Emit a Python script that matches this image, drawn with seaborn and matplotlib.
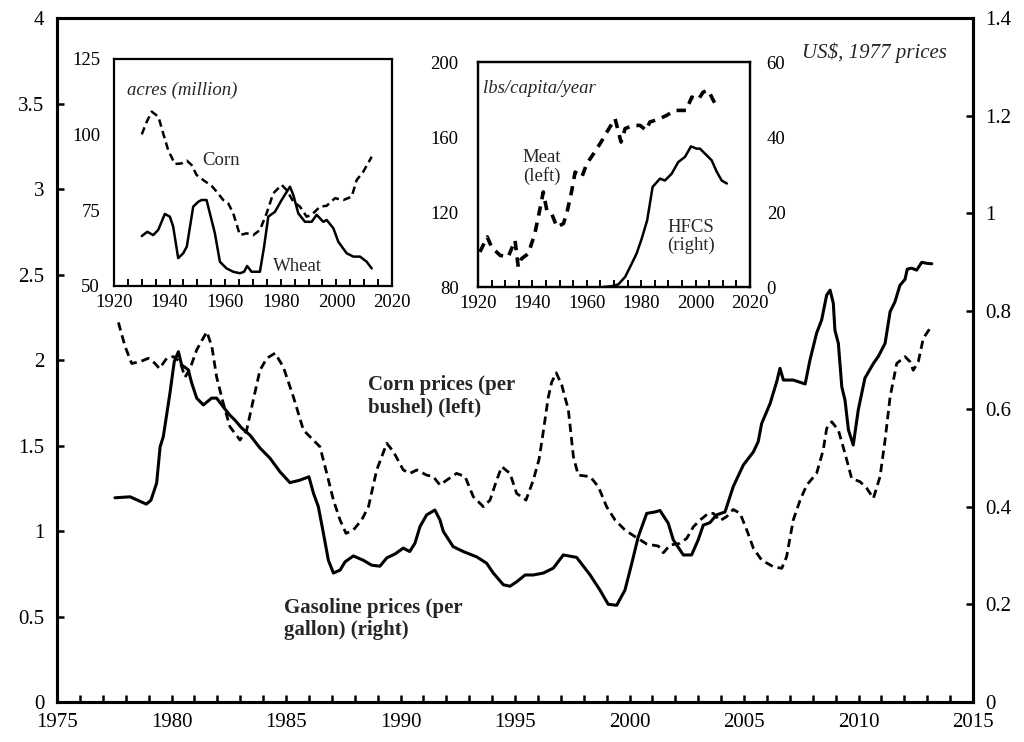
import matplotlib
matplotlib.use("Agg")
import matplotlib.pyplot as plt
import seaborn as sns
import pandas as pd
from matplotlib.ticker import MultipleLocator, FixedLocator, FuncFormatter

# ---------------- data ----------------
corn_price_year = [1977.68, 1977.97, 1978.26, 1978.62, 1978.99, 1979.28, 1979.47, 1979.79, 1980.08, 1980.37,
                   1980.59, 1980.81, 1981.10, 1981.54, 1981.76, 1981.97, 1982.26, 1982.55, 1982.99, 1983.28,
                   1983.57, 1983.86, 1984.16, 1984.52, 1984.88, 1985.32, 1985.76, 1986.19, 1986.48, 1986.78,
                   1987.07, 1987.36, 1987.62, 1987.94, 1988.30, 1988.60, 1988.96, 1989.40, 1989.69, 1990.12,
                   1990.41, 1990.71, 1991.14, 1991.43, 1991.72, 1992.02, 1992.45, 1992.82, 1993.18, 1993.62,
                   1993.91, 1994.20, 1994.42, 1994.78, 1995.07, 1995.48, 1995.80, 1996.05, 1996.20, 1996.45,
                   1996.60, 1996.80, 1997.04, 1997.33, 1997.55, 1997.76, 1998.28, 1998.64, 1999.00, 1999.37,
                   1999.80, 2000.24, 2000.75, 2001.26, 2001.48, 2001.77, 2002.20, 2002.50, 2002.79, 2003.08,
                   2003.44, 2003.66, 2003.95, 2004.24, 2004.53, 2004.83, 2005.12, 2005.41, 2005.77, 2006.28,
                   2006.65, 2006.86, 2007.15, 2007.45, 2007.74, 2008.17, 2008.46, 2008.61, 2008.83, 2009.12,
                   2009.41, 2009.70, 2010.07, 2010.36, 2010.65, 2010.94, 2011.16, 2011.38, 2011.67, 2012.03,
                   2012.25, 2012.39, 2012.61, 2012.83, 2013.12]
corn_price = [2.22, 2.08, 1.98, 1.99, 2.01, 1.98, 1.95, 2.01, 2.02, 1.99,
              1.90, 1.95, 2.06, 2.165, 2.08, 1.90, 1.747, 1.61, 1.532, 1.59,
              1.766, 1.94, 2.01, 2.04, 1.96, 1.785, 1.59, 1.532, 1.493, 1.337,
              1.181, 1.064, 0.986, 1.006, 1.064, 1.142, 1.357, 1.513, 1.464, 1.357,
              1.337, 1.357, 1.327, 1.318, 1.269, 1.298, 1.337, 1.318, 1.20, 1.142,
              1.181, 1.298, 1.376, 1.337, 1.22, 1.181, 1.298, 1.42, 1.55, 1.78,
              1.87, 1.925, 1.854, 1.708, 1.434, 1.327, 1.318, 1.259, 1.142, 1.064,
              1.006, 0.967, 0.924, 0.912, 0.873, 0.918, 0.928, 0.957, 1.025, 1.064,
              1.103, 1.103, 1.06, 1.084, 1.126, 1.103, 1.006, 0.899, 0.83, 0.791,
              0.782, 0.85, 1.064, 1.181, 1.269, 1.337, 1.474, 1.60, 1.639, 1.59,
              1.454, 1.308, 1.288, 1.25, 1.191, 1.318, 1.532, 1.785, 1.98, 2.02,
              1.99, 1.94, 1.99, 2.127, 2.185]

gas_year = [1977.53, 1978.19, 1978.90, 1979.10, 1979.35, 1979.50, 1979.64, 1979.93, 1980.12, 1980.30,
            1980.44, 1980.73, 1980.88, 1981.10, 1981.39, 1981.75, 1981.97, 1982.26, 1982.55, 1982.77,
            1983.06, 1983.43, 1983.86, 1984.30, 1984.74, 1985.17, 1985.60, 1986.00, 1986.20, 1986.41,
            1986.63, 1986.85, 1987.07, 1987.36, 1987.58, 1987.94, 1988.38, 1988.74, 1989.10, 1989.40,
            1989.76, 1990.12, 1990.40, 1990.63, 1990.85, 1991.14, 1991.50, 1991.72, 1991.87, 1992.30,
            1992.74, 1993.33, 1993.76, 1994.05, 1994.49, 1994.78, 1995.07, 1995.44, 1995.80, 1996.24,
            1996.67, 1997.11, 1997.69, 1998.28, 1998.71, 1999.07, 1999.44, 1999.80, 2000.10, 2000.38,
            2000.75, 2001.11, 2001.33, 2001.69, 2001.91, 2002.35, 2002.71, 2003.00, 2003.22, 2003.51,
            2003.80, 2004.17, 2004.53, 2004.97, 2005.41, 2005.62, 2005.77, 2006.14, 2006.43, 2006.57,
            2006.72, 2007.15, 2007.67, 2007.88, 2008.17, 2008.39, 2008.61, 2008.76, 2008.90, 2008.97,
            2009.12, 2009.27, 2009.41, 2009.56, 2009.77, 2009.99, 2010.28, 2010.65, 2010.86, 2011.16,
            2011.38, 2011.59, 2011.81, 2012.03, 2012.13, 2012.32, 2012.54, 2012.76, 2012.98, 2013.20]
gas_price = [0.418, 0.420, 0.405, 0.413, 0.448, 0.522, 0.543, 0.632, 0.697, 0.717,
             0.690, 0.680, 0.653, 0.622, 0.608, 0.622, 0.622, 0.604, 0.587, 0.577,
             0.561, 0.546, 0.520, 0.499, 0.471, 0.449, 0.454, 0.461, 0.427, 0.400,
             0.346, 0.290, 0.264, 0.270, 0.287, 0.299, 0.290, 0.280, 0.278, 0.295,
             0.303, 0.315, 0.308, 0.325, 0.359, 0.383, 0.393, 0.373, 0.349, 0.318,
             0.308, 0.297, 0.284, 0.264, 0.240, 0.237, 0.246, 0.260, 0.260, 0.264,
             0.274, 0.301, 0.296, 0.260, 0.229, 0.200, 0.198, 0.229, 0.284, 0.338,
             0.386, 0.389, 0.392, 0.366, 0.332, 0.301, 0.301, 0.332, 0.362, 0.367,
             0.383, 0.389, 0.441, 0.485, 0.512, 0.533, 0.570, 0.611, 0.656, 0.683,
             0.659, 0.659, 0.651, 0.700, 0.755, 0.782, 0.833, 0.843, 0.816, 0.761,
             0.734, 0.645, 0.618, 0.557, 0.526, 0.598, 0.663, 0.693, 0.707, 0.734,
             0.799, 0.819, 0.853, 0.865, 0.886, 0.888, 0.884, 0.900, 0.898, 0.897]

corn_acre_year = [1930.0, 1931.8, 1933.6, 1936.0, 1937.7, 1939.5, 1941.9, 1944.3, 1946.2, 1947.9,
                  1949.7, 1952.1, 1955.1, 1956.9, 1959.3, 1961.1, 1962.9, 1965.3, 1967.7, 1970.1,
                  1972.5, 1974.9, 1977.3, 1980.3, 1982.1, 1984.5, 1986.9, 1989.3, 1991.1, 1994.1,
                  1996.5, 1999.5, 2002.5, 2005.5, 2007.3, 2009.7, 2012.7]
corn_acres = [100.1, 104.3, 107.6, 105.9, 100.4, 94.9, 90.3, 90.5, 91.4, 90.0,
              86.7, 85.0, 83.1, 81.2, 78.4, 77.3, 74.0, 66.8, 67.4, 66.8,
              68.5, 74.0, 80.6, 83.4, 81.7, 77.9, 76.2, 72.9, 73.5, 76.2,
              76.5, 79.0, 78.4, 79.5, 85.0, 87.8, 92.7]

wheat_acre_year = [1930.0, 1932.0, 1934.1, 1935.9, 1938.3, 1940.1, 1941.3, 1943.1, 1944.9, 1946.2,
                   1948.5, 1950.3, 1951.5, 1953.3, 1955.1, 1956.3, 1958.1, 1960.5, 1962.9, 1965.3,
                   1966.8, 1967.9, 1969.5, 1972.5, 1974.0, 1975.5, 1977.9, 1980.3, 1983.3, 1984.5,
                   1986.3, 1988.7, 1991.1, 1992.9, 1995.3, 1996.5, 1998.9, 2000.7, 2003.7, 2006.1,
                   2008.5, 2010.9, 2012.7]
wheat_acres = [66.5, 67.9, 66.8, 68.5, 73.8, 72.9, 69.6, 59.2, 60.8, 63.0,
               76.2, 77.8, 78.4, 78.4, 71.8, 67.4, 58.0, 55.8, 54.7, 54.2,
               54.7, 56.6, 54.7, 54.7, 63.0, 72.9, 74.5, 78.4, 82.8, 80.1,
               74.0, 71.2, 71.2, 73.5, 71.2, 71.8, 69.1, 64.6, 60.8, 59.7,
               59.7, 58.0, 55.8]

meat_year = [1920.7, 1923.4, 1925.0, 1928.1, 1931.1, 1933.6, 1934.8, 1936.0, 1938.5, 1940.9,
             1942.8, 1944.0, 1945.3, 1947.1, 1949.0, 1951.4, 1952.6, 1954.5, 1955.7, 1958.2,
             1960.0, 1962.5, 1964.9, 1967.4, 1970.4, 1972.6, 1974.1, 1977.1, 1979.6, 1981.8,
             1983.2, 1986.9, 1989.4, 1992.4, 1996.5, 1998.6, 2001.0, 2002.8, 2004.7, 2006.5,
             2008.3]
meat_lbs = [98.7, 106.7, 101.3, 96.9, 96.0, 104.9, 90.7, 95.1, 97.8, 108.5,
            121.8, 130.7, 120.9, 119.1, 112.0, 113.8, 119.1, 131.6, 141.3, 138.7,
            145.8, 151.1, 156.5, 162.7, 169.8, 157.3, 164.5, 166.2, 166.2, 163.6,
            168.0, 169.8, 171.6, 174.2, 174.2, 181.3, 180.0, 184.0, 184.9, 179.6,
            175.1]

hfcs_year = [1966.0, 1969.1, 1971.6, 1974.1, 1976.5, 1978.3, 1980.2, 1982.2, 1984.2, 1986.9,
             1988.7, 1991.2, 1993.6, 1996.1, 1998.3, 2000.4, 2001.6, 2004.1, 2005.9, 2007.8,
             2009.6, 2011.5]
hfcs_lbs = [0.0, 0.2, 0.7, 2.7, 6.2, 8.9, 12.9, 17.8, 26.7, 28.9,
            28.4, 30.2, 33.3, 34.7, 37.5, 36.9, 36.9, 35.1, 33.8, 30.7,
            28.4, 27.6]

main_xticks = [1975, 1980, 1985, 1990, 1995, 2000, 2005, 2010, 2015]
left_yticks = [0, 0.5, 1, 1.5, 2, 2.5, 3, 3.5, 4]
right_yticks = [0, 0.2, 0.4, 0.6, 0.8, 1.0, 1.2, 1.4]
inset_xticks = [1920, 1940, 1960, 1980, 2000, 2020]
acre_yticks = [50, 75, 100, 125]
meat_yticks = [80, 120, 160, 200]
hfcs_yticks = [0, 20, 40, 60]

# ---------------- style ----------------
sns.set_theme(style="ticks")
plt.rcParams['font.family'] = ['Liberation Serif', 'DejaVu Serif']
fmt = FuncFormatter(lambda v, p: f"{v:g}")
INSET_FS = 13.5

fig = plt.figure(figsize=(10.24, 7.42), dpi=100)
fig.patch.set_facecolor('white')

# ---------------- main axes ----------------
ax = fig.add_axes([0.0557, 0.0539, 0.9502 - 0.0557, 0.9757 - 0.0539])
ax2 = ax.twinx()

df_corn = pd.DataFrame({"year": corn_price_year, "price": corn_price})
df_gas = pd.DataFrame({"year": gas_year, "price": gas_price})
sns.lineplot(data=df_corn, x="year", y="price", ax=ax, color="black", linewidth=2.0,
             linestyle=(0, (3.0, 1.8)))
sns.lineplot(data=df_gas, x="year", y="price", ax=ax2, color="black", linewidth=2.2)

ax.set_xlim(1975, 2015)
ax.set_ylim(0, 4)
ax2.set_ylim(0, 1.4)
ax.set_xlabel("")
ax.set_ylabel("")
ax2.set_ylabel("")
ax.xaxis.set_major_locator(FixedLocator(main_xticks))
ax.xaxis.set_minor_locator(MultipleLocator(1))
ax.yaxis.set_major_locator(FixedLocator(left_yticks))
ax2.yaxis.set_major_locator(FixedLocator(right_yticks))
ax.xaxis.set_major_formatter(fmt)
ax.yaxis.set_major_formatter(fmt)
ax2.yaxis.set_major_formatter(fmt)
for a in (ax, ax2):
    for s in a.spines.values():
        s.set_visible(True)
        s.set_linewidth(2.2)
        s.set_color('black')
ax.tick_params(axis='x', which='both', direction='in', length=5, width=1.8, labelsize=15, pad=8,
               top=False, colors='black')
ax.tick_params(axis='y', which='both', direction='in', length=5, width=1.8, labelsize=15, pad=9,
               right=False, colors='black')
ax2.tick_params(axis='y', which='both', direction='in', length=5, width=1.8, labelsize=15, pad=9,
                left=False, colors='black')
ax.set_facecolor('white')

ax.text(1988.58, 1.912, "Corn prices (per\nbushel) (left)", fontsize=15, fontweight='bold',
        ha='left', va='top', linespacing=1.15)
ax.text(1984.91, 0.608, "Gasoline prices (per\ngallon) (right)", fontsize=15, fontweight='bold',
        ha='left', va='top', linespacing=1.15)
ax.text(2013.86, 3.795, "US$, 1977 prices", fontsize=15, fontstyle='italic', ha='right', va='center')

# ---------------- inset 1: acres ----------------
ia = fig.add_axes([0.1113, 0.6146, 0.3828 - 0.1113, 0.9205 - 0.6146])
df_ca = pd.DataFrame({"year": corn_acre_year, "acres": corn_acres})
df_wa = pd.DataFrame({"year": wheat_acre_year, "acres": wheat_acres})
sns.lineplot(data=df_ca, x="year", y="acres", ax=ia, color="black", linewidth=1.8,
             linestyle=(0, (3.0, 1.8)))
sns.lineplot(data=df_wa, x="year", y="acres", ax=ia, color="black", linewidth=1.8)
ia.set_xlim(1920, 2020)
ia.set_ylim(50, 125)
ia.set_xlabel("")
ia.set_ylabel("")
ia.xaxis.set_major_locator(FixedLocator(inset_xticks))
ia.xaxis.set_minor_locator(MultipleLocator(5))
ia.yaxis.set_major_locator(FixedLocator(acre_yticks))
ia.xaxis.set_major_formatter(fmt)
ia.yaxis.set_major_formatter(fmt)
for s in ia.spines.values():
    s.set_visible(True)
    s.set_linewidth(1.6)
    s.set_color('black')
ia.tick_params(axis='x', which='both', direction='in', length=5, width=1.4, labelsize=INSET_FS, pad=6,
               colors='black')
ia.tick_params(axis='y', which='both', length=0, labelsize=INSET_FS, pad=10, colors='black')
ia.set_facecolor('white')
ia.text(1924.6, 114.7, "acres (million)", fontsize=INSET_FS, fontstyle='italic', ha='left', va='center')
ia.text(1951.9, 91.6, "Corn", fontsize=INSET_FS, ha='left', va='center')
ia.text(1977.3, 56.4, "Wheat", fontsize=INSET_FS, ha='left', va='center')

# ---------------- inset 2: meat and HFCS ----------------
im = fig.add_axes([0.4668, 0.6132, 0.7324 - 0.4668, 0.9164 - 0.6132])
im2 = im.twinx()
df_meat = pd.DataFrame({"year": meat_year, "lbs": meat_lbs})
df_hfcs = pd.DataFrame({"year": hfcs_year, "lbs": hfcs_lbs})
sns.lineplot(data=df_meat, x="year", y="lbs", ax=im, color="black", linewidth=2.6,
             linestyle=(0, (2.6, 2.0)))
sns.lineplot(data=df_hfcs, x="year", y="lbs", ax=im2, color="black", linewidth=1.8)
im.set_xlim(1920, 2020)
im.set_ylim(80, 200)
im2.set_ylim(0, 60)
for a in (im, im2):
    a.set_xlabel("")
    a.set_ylabel("")
im.xaxis.set_major_locator(FixedLocator(inset_xticks))
im.xaxis.set_minor_locator(MultipleLocator(5))
im.yaxis.set_major_locator(FixedLocator(meat_yticks))
im2.yaxis.set_major_locator(FixedLocator(hfcs_yticks))
im.xaxis.set_major_formatter(fmt)
im.yaxis.set_major_formatter(fmt)
im2.yaxis.set_major_formatter(fmt)
for a in (im, im2):
    for s in a.spines.values():
        s.set_visible(True)
        s.set_linewidth(1.6)
        s.set_color('black')
im.tick_params(axis='x', which='both', direction='in', length=5, width=1.4, labelsize=INSET_FS, pad=6,
               colors='black')
im.tick_params(axis='y', which='both', length=0, labelsize=INSET_FS, pad=14, colors='black')
im2.tick_params(axis='y', which='both', length=0, labelsize=INSET_FS, pad=12, colors='black')
im.set_facecolor('white')
im.text(1921.9, 185.8, "lbs/capita/year", fontsize=INSET_FS, fontstyle='italic', ha='left', va='center')
im.text(1943.4, 144.0, "Meat\n(left)", fontsize=INSET_FS, ha='center', va='center', linespacing=1.1)
im2.text(1998.3, 13.5, "HFCS\n(right)", fontsize=INSET_FS, ha='center', va='center', linespacing=1.1)

fig.savefig("out.png", dpi=100, facecolor='white')
